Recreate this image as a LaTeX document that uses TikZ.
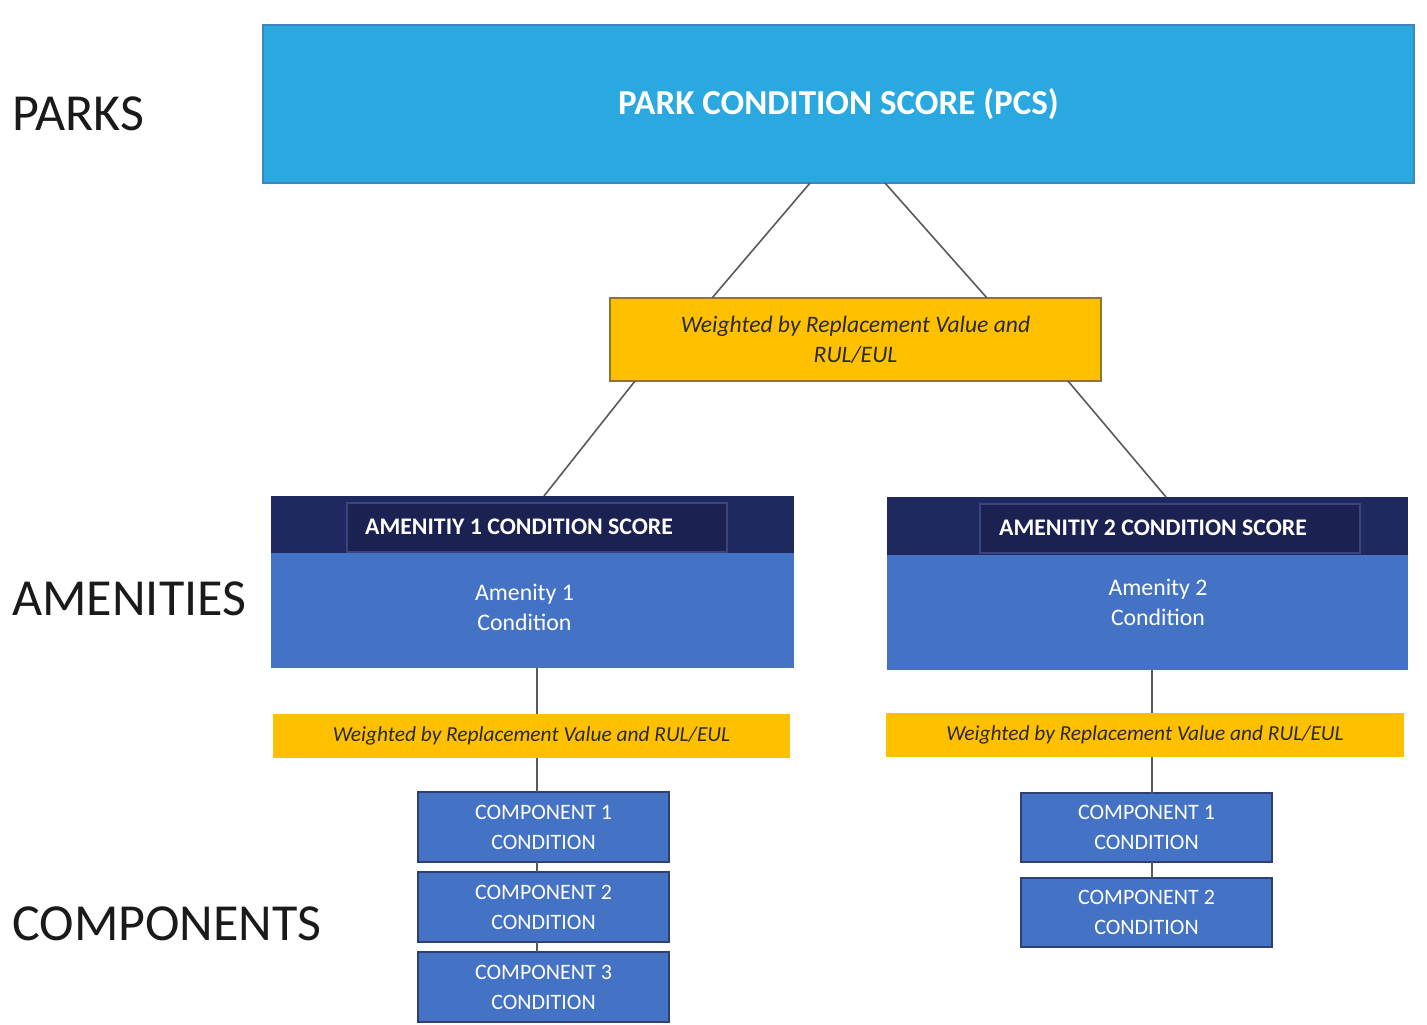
\documentclass[tikz,border=0pt]{standalone}
\usepackage{fontspec}
\setmainfont{Carlito}
\definecolor{pcsblue}{HTML}{2AA8E0}
\definecolor{pcsedge}{HTML}{3F86BE}
\definecolor{yel}{HTML}{FFC000}
\definecolor{yeledge}{HTML}{8A7A2A}
\definecolor{wtext}{HTML}{2A2A2A}
\definecolor{navy}{HTML}{20295F}
\definecolor{navyin}{HTML}{1B2150}
\definecolor{navyedge}{HTML}{3A4580}
\definecolor{bodyblue}{HTML}{4472C4}
\definecolor{compedge}{HTML}{2F3F78}
\definecolor{linegray}{HTML}{5A5A5A}
\definecolor{lbltext}{HTML}{1A1A1A}
\begin{document}
\begin{tikzpicture}[x=0.5pt,y=-0.5pt]
\tikzset{
 box/.style={inner sep=0pt, outer sep=0pt, align=center},
 pcsbox/.style={box, fill=pcsblue, draw=pcsedge, line width=1pt, minimum width=575.5pt, minimum height=79pt, text=white, font=\bfseries\fontsize{17.5}{21}\selectfont},
 wbox/.style={box, fill=yel, draw=yeledge, line width=0.8pt, minimum width=245.5pt, minimum height=41.5pt, font=\itshape\fontsize{11.8}{15}\selectfont, text=wtext},
 band/.style={box, fill=yel, minimum height=22pt, font=\itshape\fontsize{10.7}{13}\selectfont, text=wtext},
 ahead/.style={box, fill=navy, minimum height=28.5pt},
 ainner/.style={box, fill=navyin, draw=navyedge, line width=0.6pt, minimum width=190pt, minimum height=24.5pt},
 headtext/.style={inner sep=0pt, text=white, font=\bfseries\fontsize{11.9}{14}\selectfont},
 abody/.style={box, fill=bodyblue, minimum height=57.5pt, text=white, font=\fontsize{11.9}{15}\selectfont},
 comp/.style={box, fill=bodyblue, draw=compedge, line width=1pt, minimum width=125.5pt, minimum height=35pt, text=white, font=\fontsize{11}{15}\selectfont},
 conn/.style={draw=linegray, line width=0.8pt},
 lbl/.style={anchor=west, inner sep=0pt, text=lbltext, font=\fontsize{26}{30}\selectfont},
}
\useasboundingbox[fill=white] (0,0) rectangle (1427,1024);

% level labels
\node[lbl] (lparks) at (12,113.5) {PARKS};
\node[lbl] (lamen) at (12,598.5) {AMENITIES};
\node[lbl] (lcomp) at (12,923.5) {COMPONENTS};

% park
\node[pcsbox] (pcs) at (838.5,104) {PARK CONDITION SCORE (PCS)};
\node[wbox] (w1) at (855.5,339.5) {Weighted by Replacement Value and\\RUL/EUL};

% amenity 1
\node[ahead, minimum width=261.5pt] (a1head) at (532.5,524.5) {};
\node[ainner] (a1in) at (537,527.5) {};
\node[headtext] (a1title) at (519,527) {AMENITIY 1 CONDITION SCORE};
\node[abody, minimum width=261.5pt] (a1body) at (532.5,610.5) {};
\node[text=white, font=\fontsize{11.9}{15}\selectfont, align=center, inner sep=0pt] (a1txt) at (524.5,607) {Amenity 1\\Condition};

% amenity 2
\node[ahead, minimum width=260.5pt, minimum height=29pt] (a2head) at (1147.5,526) {};
\node[ainner] (a2in) at (1170,528.5) {};
\node[headtext] (a2title) at (1153,528) {AMENITIY 2 CONDITION SCORE};
\node[abody, minimum width=260.5pt] (a2body) at (1147.5,612.5) {};
\node[text=white, font=\fontsize{11.9}{15}\selectfont, align=center, inner sep=0pt] (a2txt) at (1158,602) {Amenity 2\\Condition};

% weighting bands
\node[band, minimum width=258.5pt] (b1) at (531.5,736) {Weighted by Replacement Value and RUL/EUL};
\node[band, minimum width=259pt] (b2) at (1145,735) {Weighted by Replacement Value and RUL/EUL};

% components left
\node[comp] (l1) at (543.5,827) {COMPONENT 1\\CONDITION};
\node[comp] (l2) at (543.5,907) {COMPONENT 2\\CONDITION};
\node[comp] (l3) at (543.5,987) {COMPONENT 3\\CONDITION};
% components right
\node[comp, minimum height=34.5pt] (r1) at (1146.5,827.5) {COMPONENT 1\\CONDITION};
\node[comp, minimum height=34.5pt] (r2) at (1146.5,912.5) {COMPONENT 2\\CONDITION};

% connectors
\coordinate (vl) at (537,700);
\coordinate (vr) at (1152,700);
\draw[conn] ([xshift=-14.25pt]pcs.south) -- ([xshift=-71.75pt]w1.north);
\draw[conn] ([xshift=23.25pt]pcs.south) -- ([xshift=65.75pt]w1.north);
\draw[conn] ([xshift=-110.25pt]w1.south) -- ([xshift=5.75pt]a1head.north);
\draw[conn] ([xshift=106.25pt]w1.south) -- ([xshift=9.25pt]a2head.north);
\draw[conn] (a1body.south -| vl) -- (b1.north -| vl);
\draw[conn] (b1.south -| vl) -- (l1.north -| vl);
\draw[conn] (l1.south -| vl) -- (l2.north -| vl);
\draw[conn] (l2.south -| vl) -- (l3.north -| vl);
\draw[conn] (a2body.south -| vr) -- (b2.north -| vr);
\draw[conn] (b2.south -| vr) -- (r1.north -| vr);
\draw[conn] (r1.south -| vr) -- (r2.north -| vr);
\end{tikzpicture}
\end{document}
